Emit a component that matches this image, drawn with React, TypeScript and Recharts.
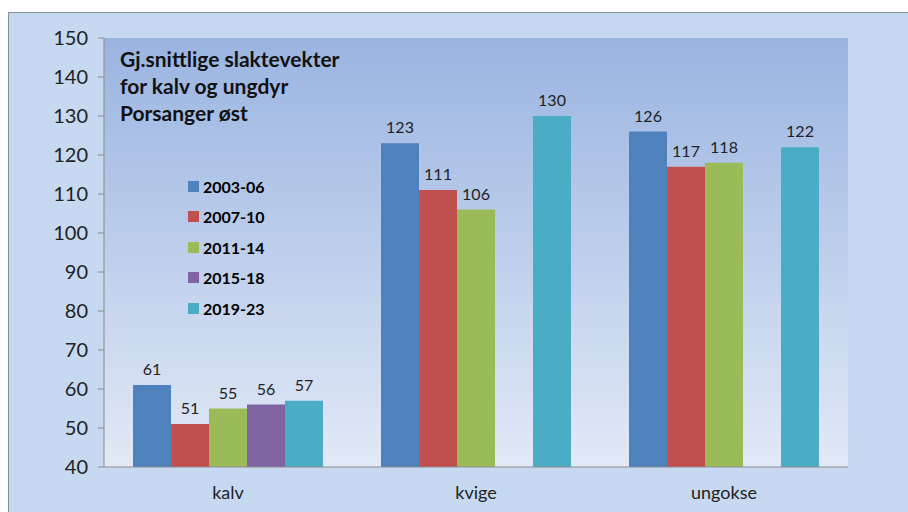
import { BarChart, Bar, XAxis, YAxis, CartesianGrid, Legend, LabelList } from 'recharts';

const categories = ['kalv', 'kvige', 'ungokse'];
const periods = ['2003-06', '2007-10', '2011-14', '2015-18', '2019-23'];
const colors = ['#4F81BD', '#C0504D', '#9BBB59', '#8064A2', '#4BACC6'];

const v2003 = [61, 123, 126];
const v2007 = [51, 111, 117];
const v2011 = [55, 106, 118];
const v2015 = [56, null, null];
const v2019 = [57, 130, 122];

const yTicks = [40, 50, 60, 70, 80, 90, 100, 110, 120, 130, 140, 150];
const edgeTicks = [0, 1, 2, 3];

const seriesValues = [v2003, v2007, v2011, v2015, v2019];

const data = categories.map((name, i) => {
  const row: any = { name, edge: i + 0.5 };
  periods.forEach((p, j) => {
    row[p] = seriesValues[j][i];
  });
  return row;
});

const font = 'Lato, "Open Sans", sans-serif';

function LegendBox({ payload }: any) {
  return (
    <div style={{ fontFamily: font, fontWeight: 700, fontSize: 16, color: '#000' }}>
      {payload.map((p: any) => (
        <div key={p.value} style={{ display: 'flex', alignItems: 'center', height: 30.5 }}>
          <span style={{ width: 11, height: 11, background: p.color, marginRight: 4, display: 'inline-block' }} />
          {p.value}
        </div>
      ))}
    </div>
  );
}

export default function App() {
  return (
    <div style={{ position: 'relative', width: 908, height: 512, background: '#fff', overflow: 'hidden' }}>
      <style>{'body{margin:0}'}</style>
      <div
        style={{
          position: 'absolute', left: 8, top: 12, width: 920, height: 520,
          background: '#C6D9F1', borderLeft: '1px solid #8a9099', borderTop: '1px solid #8a9099',
        }}
      />
      <div style={{ position: 'absolute', left: 0, top: 0 }}>
        <BarChart
          width={908}
          height={512}
          data={data}
          margin={{ top: 38, right: 60, left: 44, bottom: 15 }}
          barCategoryGap={29}
          barGap={0}
        >
          <defs>
            <linearGradient id="plotBg" x1="0" y1="0" x2="0" y2="1">
              <stop offset="0%" stopColor="#9AB4E1" />
              <stop offset="100%" stopColor="#E2E9F6" />
            </linearGradient>
          </defs>
          <CartesianGrid xAxisId="b" fill="url(#plotBg)" horizontal={false} vertical={false} stroke="none" />
          <XAxis
            xAxisId="b"
            dataKey="name"
            height={29}
            tickLine={false}
            tickSize={0}
            tickMargin={18}
            axisLine={false}
            tick={{ fill: '#222', fontSize: 18, fontFamily: font }}
          />
          <XAxis
            xAxisId="a"
            type="number"
            dataKey="edge"
            domain={[0, 3]}
            ticks={edgeTicks}
            tick={false}
            height={1}
            tickSize={6}
            axisLine={{ stroke: '#8c8c8c' }}
            tickLine={{ stroke: '#8c8c8c' }}
          />
          <YAxis
            domain={[40, 150]}
            ticks={yTicks}
            width={60}
            tickSize={6}
            tickMargin={10}
            interval={0}
            axisLine={{ stroke: '#8c8c8c' }}
            tickLine={{ stroke: '#8c8c8c' }}
            tick={{ fill: '#222', fontSize: 20, fontFamily: font }}
          />
          <Legend
            layout="horizontal"
            verticalAlign="middle"
            align="center"
            content={<LegendBox />}
            wrapperStyle={{ left: 188, top: 171, width: 120 }}
          />
          {periods.map((p, j) => (
            <Bar key={p} xAxisId="b" dataKey={p} name={p} fill={colors[j]} isAnimationActive={false}>
              <LabelList
                dataKey={p}
                position="top"
                offset={10}
                style={{ fill: '#222', fontSize: 16, fontFamily: font }}
              />
            </Bar>
          ))}
        </BarChart>
      </div>
      <div
        style={{
          position: 'absolute', left: 120, top: 45, fontFamily: font, fontWeight: 700,
          fontSize: 21, lineHeight: '27px', color: '#111',
        }}
      >
        Gj.snittlige slaktevekter<br />for kalv og ungdyr<br />Porsanger øst
      </div>
    </div>
  );
}
